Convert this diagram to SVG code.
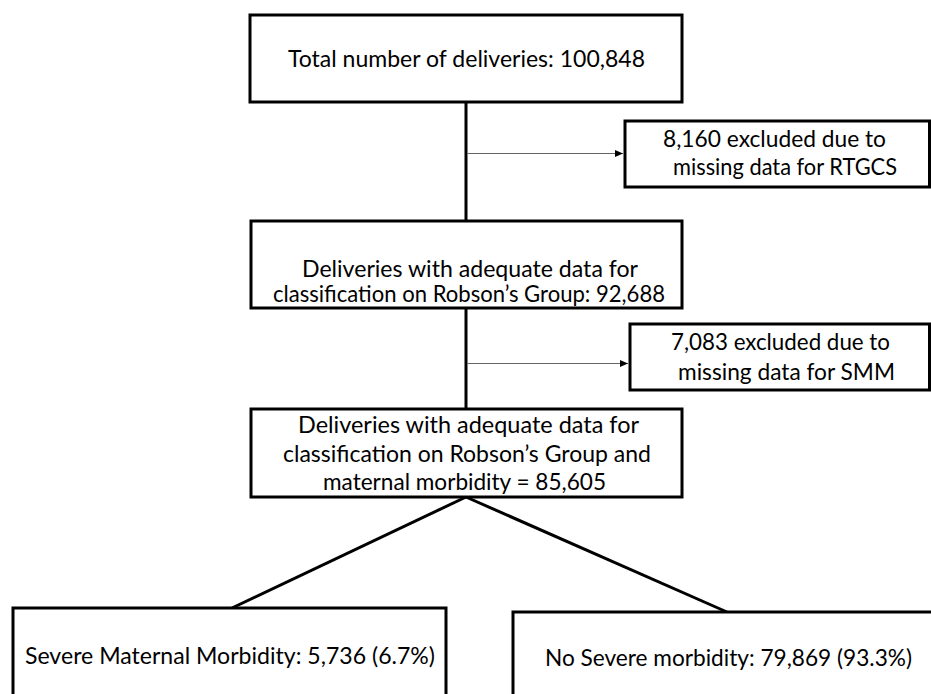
<svg xmlns="http://www.w3.org/2000/svg" width="931" height="694" viewBox="0 0 931 694">
<style>
.box{fill:#fff;stroke:#000;stroke-width:3}
.t{font-family:Lato,"Liberation Sans",sans-serif;font-size:24px;fill:#000}
.trunk{stroke:#000;stroke-width:3;fill:none}
.thin{stroke:#666;stroke-width:1.2;fill:none}
</style>
<defs>
<marker id="ah" markerUnits="userSpaceOnUse" markerWidth="9" markerHeight="8" refX="8" refY="4" orient="auto">
<path d="M0,0.5 L8,4 L0,7.5 z" fill="#000"/>
</marker>
</defs>
<rect width="931" height="694" fill="#fff"/>
<g id="connectors">
<line class="trunk" x1="466" y1="102" x2="466" y2="221"/>
<line class="trunk" x1="466" y1="308" x2="466" y2="409"/>
<line class="thin" x1="467" y1="153.5" x2="623" y2="153.5" marker-end="url(#ah)"/>
<line class="thin" x1="467" y1="363.5" x2="628" y2="363.5" marker-end="url(#ah)"/>
<line class="trunk" x1="466" y1="497" x2="232" y2="608"/>
<line class="trunk" x1="466" y1="497" x2="727" y2="612"/>
</g>
<g id="total">
<rect class="box" x="250" y="15" width="432" height="87"/>
<text class="t" x="288" y="67" textLength="357" lengthAdjust="spacingAndGlyphs">Total number of deliveries: 100,848</text>
</g>
<g id="excl1">
<rect class="box" x="625" y="121" width="304.5" height="66"/>
<text class="t" x="663" y="147" textLength="223" lengthAdjust="spacingAndGlyphs">8,160 excluded due to</text>
<text class="t" x="673" y="175" textLength="224" lengthAdjust="spacingAndGlyphs">missing data for RTGCS</text>
</g>
<g id="robson">
<rect class="box" x="251" y="221" width="431" height="87"/>
<text class="t" x="302" y="277" textLength="336" lengthAdjust="spacingAndGlyphs">Deliveries with adequate data for</text>
<text class="t" x="273" y="302" textLength="392" lengthAdjust="spacingAndGlyphs">classification on Robson’s Group: 92,688</text>
</g>
<g id="excl2">
<rect class="box" x="630" y="324" width="299.5" height="66"/>
<text class="t" x="671" y="350" textLength="219" lengthAdjust="spacingAndGlyphs">7,083 excluded due to</text>
<text class="t" x="678" y="380" textLength="217" lengthAdjust="spacingAndGlyphs">missing data for SMM</text>
</g>
<g id="robson-smm">
<rect class="box" x="251" y="409" width="431" height="88"/>
<text class="t" x="298" y="433" textLength="341" lengthAdjust="spacingAndGlyphs">Deliveries with adequate data for</text>
<text class="t" x="283" y="462" textLength="368" lengthAdjust="spacingAndGlyphs">classification on Robson’s Group and</text>
<text class="t" x="323" y="490" textLength="283" lengthAdjust="spacingAndGlyphs">maternal morbidity = 85,605</text>
</g>
<g id="smm">
<rect class="box" x="13" y="608" width="433" height="110"/>
<text class="t" x="25" y="664" textLength="410" lengthAdjust="spacingAndGlyphs">Severe Maternal Morbidity: 5,736 (6.7%)</text>
</g>
<g id="nosmm">
<rect class="box" x="513" y="612" width="440" height="110"/>
<text class="t" x="545" y="666" textLength="367" lengthAdjust="spacingAndGlyphs">No Severe morbidity: 79,869 (93.3%)</text>
</g>
</svg>
